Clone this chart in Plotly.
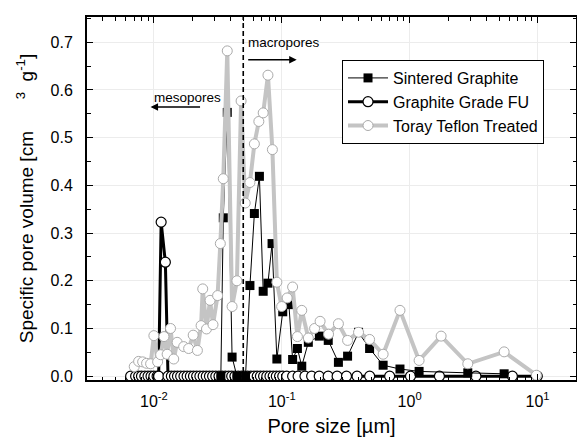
import numpy as np
import plotly.graph_objects as go

# ---------------- data ----------------
sint_x = [0.0334, 0.0349, 0.0375, 0.0409, 0.0446, 0.0521, 0.0564, 0.0611, 0.0669,
          0.0716, 0.0780, 0.0840, 0.0916, 0.1018, 0.1138, 0.1216, 0.1326, 0.1434,
          0.1614, 0.1969, 0.2310, 0.2774, 0.3272, 0.3986, 0.4864, 0.6206, 0.8406,
          1.186, 2.850, 5.484]
sint_y = [0.0, 0.332, 0.553, 0.040, 0.0, 0.0, 0.190, 0.341, 0.419,
          0.178, 0.195, 0.278, 0.036, 0.135, 0.150, 0.035, 0.058, 0.021,
          0.071, 0.084, 0.075, 0.029, 0.042, 0.092, 0.058, 0.023, 0.015,
          0.010, 0.007, 0.005]

fu_x = [0.00658, 0.0072, 0.0076, 0.0080, 0.0085, 0.0090, 0.0095, 0.0100, 0.0106,
        0.0109, 0.0114, 0.0123, 0.0129, 0.0137, 0.0145, 0.0153, 0.0162, 0.0172,
        0.0182, 0.0193, 0.0204, 0.0216, 0.0229, 0.0243, 0.0257, 0.0272, 0.0288,
        0.0305, 0.0323, 0.0342, 0.0362, 0.0384, 0.0406, 0.0430, 0.0456, 0.0483,
        0.0511, 0.0541, 0.0573, 0.0607, 0.0643, 0.0681, 0.0721, 0.0764, 0.0809,
        0.0857, 0.0907, 0.0961, 0.1018, 0.1094, 0.1216, 0.1342, 0.1519, 0.1713,
        0.1963, 0.2307, 0.2710, 0.3208, 0.388, 0.487, 0.698, 1.016, 1.71, 3.30,
        6.36, 9.96]
fu_y = [0.0, 0.0, 0.0, 0.0, 0.0, 0.0, 0.0, 0.0, 0.0,
        0.0, 0.323, 0.239, 0.0, 0.0, 0.0, 0.0, 0.0, 0.0,
        0.0, 0.0, 0.0, 0.0, 0.0, 0.0, 0.0, 0.0, 0.0,
        0.0, 0.0, 0.0, 0.0, 0.0, 0.0, 0.0, 0.0, 0.0,
        0.0, 0.0, 0.0, 0.0, 0.0, 0.0, 0.0, 0.0, 0.0,
        0.0, 0.0, 0.0, 0.0, 0.0, 0.0, 0.0, 0.0, 0.0,
        0.0, 0.0, 0.0, 0.0, 0.0, 0.0, 0.0, 0.0, 0.0, 0.0,
        0.0, 0.0]

toray_x = [0.00702, 0.0076, 0.00817, 0.00877, 0.00943, 0.0100, 0.0107, 0.0113, 0.0120,
           0.0127, 0.0135, 0.0143, 0.0152, 0.0171, 0.0187, 0.0203, 0.0219, 0.0234,
           0.0241, 0.0258, 0.0275, 0.0290, 0.0315, 0.0331, 0.0349, 0.0375, 0.0409,
           0.0446, 0.0481, 0.0518, 0.0564, 0.0611, 0.0662, 0.0716, 0.0780, 0.0845,
           0.0916, 0.0998, 0.1102, 0.1216, 0.1326, 0.1434, 0.1614, 0.1807, 0.1995,
           0.2323, 0.2774, 0.3272, 0.3986, 0.4864, 0.6206, 0.8406, 1.186, 1.763,
           2.850, 5.484, 9.80]
toray_y = [0.020, 0.031, 0.030, 0.027, 0.026, 0.085, 0.030, 0.045, 0.083,
           0.046, 0.100, 0.036, 0.071, 0.062, 0.058, 0.086, 0.054, 0.106,
           0.183, 0.099, 0.159, 0.108, 0.169, 0.278, 0.414, 0.682, 0.146,
           0.200, 0.577, 0.363, 0.406, 0.487, 0.534, 0.552, 0.631, 0.475,
           0.197, 0.146, 0.164, 0.187, 0.083, 0.138, 0.080, 0.100, 0.115,
           0.088, 0.110, 0.075, 0.092, 0.077, 0.046, 0.138, 0.033, 0.084,
           0.026, 0.051, 0.002]

boundary_x = 0.05
x_tick_vals = [0.01, 0.1, 1, 10]
x_tick_text = ["10<sup>-2</sup>", "10<sup>-1</sup>", "10<sup>0</sup>", "10<sup>1</sup>"]
y_tick_vals = [0.0, 0.1, 0.2, 0.3, 0.4, 0.5, 0.6, 0.7]
y_tick_text = ["0.0", "0.1", "0.2", "0.3", "0.4", "0.5", "0.6", "0.7"]

X_RANGE = [0.003, 20]
Y_RANGE = [-0.008, 0.753]

FONT = "Liberation Sans, Arial, sans-serif"
GRAY = "#c4c4c4"
GRAY_EDGE = "#aaaaaa"

fig = go.Figure()

fig.add_trace(go.Scatter(
    x=fu_x, y=fu_y, mode="lines+markers", name="Graphite Grade FU",
    line=dict(color="black", width=3),
    marker=dict(symbol="circle", size=10, color="white", line=dict(color="black", width=1.2)),
    legendrank=2,
))
fig.add_trace(go.Scatter(
    x=sint_x, y=sint_y, mode="lines+markers", name="Sintered Graphite",
    line=dict(color="black", width=1),
    marker=dict(symbol="square", size=9, color="black", line=dict(color="black", width=0)),
    legendrank=1,
))
fig.add_trace(go.Scatter(
    x=toray_x, y=toray_y, mode="lines+markers", name="Toray Teflon Treated",
    line=dict(color=GRAY, width=4),
    marker=dict(symbol="circle", size=10, color="white", line=dict(color=GRAY_EDGE, width=1)),
    legendrank=3,
))

# meso / macro boundary
fig.add_trace(go.Scatter(
    x=[boundary_x, boundary_x], y=Y_RANGE, mode="lines", showlegend=False,
    line=dict(color="black", width=1.6, dash="5px,3px"), hoverinfo="skip",
))

axis_common = dict(
    showline=True, linecolor="black", linewidth=2, mirror="ticks",
    ticks="inside", tickcolor="black", tickwidth=1.2, ticklen=6,
    showgrid=True, gridcolor="#ececec", gridwidth=1, zeroline=False,
    tickfont=dict(family=FONT, size=16, color="black"),
    automargin=False,
)

fig.update_xaxes(
    type="log", range=[np.log10(X_RANGE[0]), np.log10(X_RANGE[1])],
    tickvals=x_tick_vals, ticktext=x_tick_text,
    minor=dict(ticks="inside", ticklen=3.5, tickcolor="black", tickwidth=1, dtick="D1", showgrid=False),
    title=dict(text="Pore size [µm]", font=dict(family=FONT, size=20, color="black"), standoff=10),
    ticklabelstandoff=6,
    **axis_common,
)
nb = "\u00a0"
fig.update_yaxes(
    range=Y_RANGE, tickvals=y_tick_vals, ticktext=y_tick_text,
    minor=dict(ticks="inside", ticklen=3.5, tickcolor="black", tickwidth=1, dtick=0.05, showgrid=False),
    title=dict(text="Specific pore volume [cm" + nb * 6 + "<sup>3</sup>" + nb * 2 + "g<sup>-1</sup>]" + nb * 4,
               font=dict(family=FONT, size=19, color="black"), standoff=12),
    ticklabelstandoff=9,
    **axis_common,
)

ann_font = dict(family=FONT, size=13.5, color="black")
fig.add_annotation(x=np.log10(0.01846), y=0.584, text="mesopores", showarrow=False,
                   font=ann_font, xref="x", yref="y")
fig.add_annotation(x=np.log10(0.1045), y=0.700, text="macropores", showarrow=False,
                   font=ann_font, xref="x", yref="y")
fig.add_annotation(x=np.log10(0.00942), y=0.5644, text="", showarrow=True, ax=51, ay=0,
                   arrowhead=2, arrowsize=1, arrowwidth=1.5, arrowcolor="black", xref="x", yref="y")
fig.add_annotation(x=np.log10(0.1309), y=0.6635, text="", showarrow=True, ax=-50, ay=0,
                   arrowhead=2, arrowsize=1, arrowwidth=1.5, arrowcolor="black", xref="x", yref="y")

fig.update_layout(
    width=577, height=438,
    margin=dict(l=87, r=1, t=17, b=58),
    paper_bgcolor="white", plot_bgcolor="white",
    font=dict(family=FONT, color="black"),
    showlegend=True,
    legend=dict(x=0.5215, y=0.8815, xanchor="left", yanchor="top",
                bgcolor="white", bordercolor="black", borderwidth=1,
                font=dict(family=FONT, size=16, color="black"),
                tracegroupgap=0, itemwidth=40),
)

fig.write_html("out.html", config={"displayModeBar": False},
               post_script="document.body.style.margin='0px';document.body.style.overflow='hidden';")
